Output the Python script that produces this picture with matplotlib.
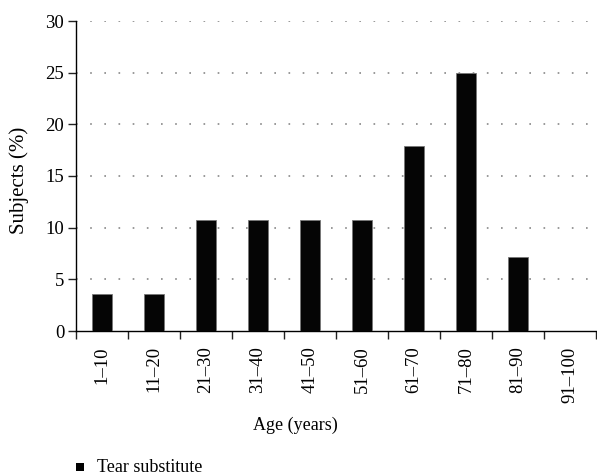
import matplotlib
matplotlib.use("Agg")
import matplotlib.pyplot as plt
import numpy as np
from matplotlib.patches import Rectangle

categories = ["1\u201310", "11\u201320", "21\u201330", "31\u201340", "41\u201350",
              "51\u201360", "61\u201370", "71\u201380", "81\u201390", "91\u2013100"]
values = [3.57, 3.57, 10.71, 10.71, 10.71, 10.71, 17.86, 25.0, 7.14, 0.0]
series_name = "Tear substitute"
yticks = [0, 5, 10, 15, 20, 25, 30]

plt.rcParams['font.family'] = ['Liberation Serif', 'DejaVu Serif']
fig = plt.figure(figsize=(5.97, 4.76), dpi=100)
W, H = 597, 476
ax = fig.add_axes([76 / W, 1 - 331 / H, 520 / W, 310 / H])

x = np.arange(len(categories))
ax.bar(x, values, width=0.4, color='#050505', edgecolor='#777777', linewidth=0.6, zorder=3)
ax.set_xlim(-0.5, len(categories) - 0.5)
ax.set_ylim(0, 30)
ax.set_yticks(yticks)
ax.set_yticklabels([str(t) for t in yticks], fontsize=13.5)
for t in yticks[1:]:
    ax.axhline(t, color='#888888', linestyle=(0, (1, 7.5)), linewidth=1.2, zorder=1)

ax.set_xticks(x)
ax.set_xticklabels(categories, rotation=90, fontsize=13.5)
ax.tick_params(axis='x', which='major', length=0, pad=11)
ax.set_xticks(np.arange(len(categories) + 1) - 0.5, minor=True)
ax.tick_params(axis='x', which='minor', length=5.5, width=1, direction='out', color='#222222')
ax.tick_params(axis='y', length=5.5, width=1, direction='out', color='#222222', pad=3)

for s in ['top', 'right']:
    ax.spines[s].set_visible(False)
ax.spines['left'].set_linewidth(1.0)
ax.spines['bottom'].set_linewidth(1.0)

fig.text(19 / W, 1 - 180 / H, "Subjects (%)", rotation=90, ha='center', va='center', fontsize=15)
fig.text(295 / W, 1 - 425 / H, "Age (years)", ha='center', va='center', fontsize=13)

# legend
fig.patches.append(Rectangle((76 / W, 1 - 471 / H), 8 / W, 8 / H, transform=fig.transFigure,
                             facecolor='black', edgecolor='none'))
fig.text(97 / W, 1 - 467 / H, series_name, ha='left', va='center', fontsize=13)

fig.savefig("out.png", dpi=100)
